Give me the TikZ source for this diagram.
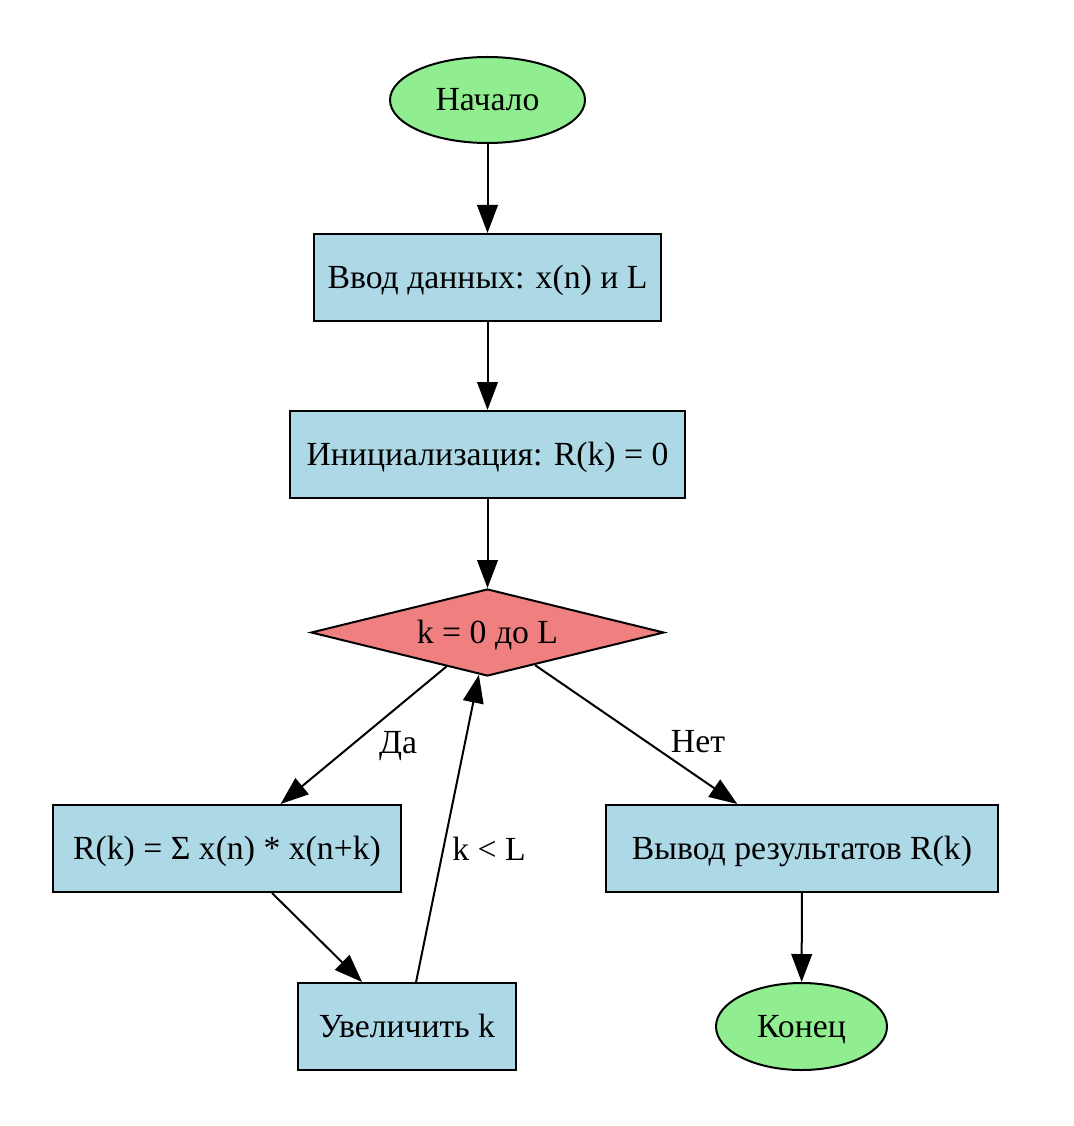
\documentclass[tikz,border=0pt]{standalone}
\usepackage{fontspec}
\setmainfont{Liberation Serif}
\usetikzlibrary{shapes.geometric,arrows.meta}
\definecolor{lgreen}{HTML}{90EE90}
\definecolor{lblue}{HTML}{ADD8E6}
\definecolor{lcoral}{HTML}{F08080}
\tikzset{
  txt/.style={font=\fontsize{25.3pt}{30pt}\selectfont, text height=20pt, text depth=3.5pt},
  base/.style={draw=black, line width=1.5pt, txt, inner sep=0pt},
  term/.style={base, ellipse, fill=lgreen},
  proc/.style={base, rectangle, fill=lblue, minimum height=65.25pt},
  cond/.style={base, diamond, fill=lcoral, aspect=4, minimum width=264.75pt, minimum height=65.25pt},
  conn/.style={line width=1.5pt, -{Triangle[length=21pt,width=15.5pt]}},
  lbl/.style={txt, inner sep=0pt}
}
\begin{document}
\begin{tikzpicture}[x=0.75pt,y=-0.75pt]
\useasboundingbox[fill=white] (0,0) rectangle (1073,1126);
\node[term, minimum width=146.25pt, minimum height=64.5pt] (start) at (487.5,100) {Начало};
\node[proc, minimum width=260.25pt] (input) at (487.5,277.5) {Ввод данных: x(n) и L};
\node[proc, minimum width=296.25pt] (init) at (487.5,454.5) {Инициализация: R(k) = 0};
\node[cond] (loop) at (487.5,632.5) {k = 0 до L};
\node[proc, minimum width=261pt] (calc) at (227,848.5) {R(k) = Σ x(n) * x(n+k)};
\node[proc, minimum width=163.5pt] (inc) at (407,1026.5) {Увеличить k};
\node[proc, minimum width=294pt] (out) at (802,848.5) {Вывод результатов R(k)};
\node[term, minimum width=128.25pt, minimum height=65.25pt] (end) at (801.5,1026.5) {Конец};
\draw[conn] (start) -- (input);
\draw[conn] (input) -- (init);
\draw[conn] (init) -- (loop);
\draw[conn] (loop) -- (calc);
\draw[conn] (loop) -- (out);
\draw[conn] (calc) -- (inc);
\draw[conn] (inc) -- (loop);
\draw[conn] (out) -- (end);
\node[lbl] (yes) at (398,742) {Да};
\node[lbl] (no) at (698,741) {Нет};
\node[lbl] (less) at (489,849) {k < L};
\end{tikzpicture}
\end{document}
